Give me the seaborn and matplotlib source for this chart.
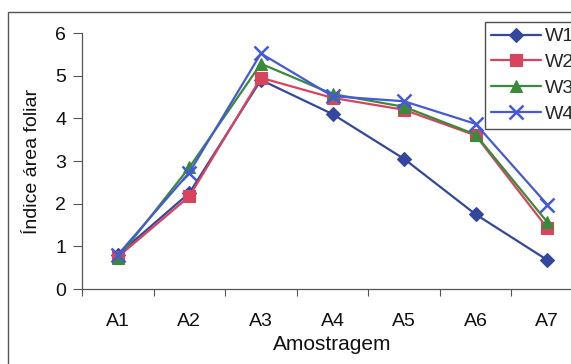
import matplotlib
matplotlib.use("Agg")
import matplotlib.pyplot as plt
import seaborn as sns
import pandas as pd
from matplotlib.patches import Rectangle
from matplotlib.ticker import FixedLocator, NullFormatter

categories = ["A1", "A2", "A3", "A4", "A5", "A6", "A7"]
w1 = [0.80, 2.25, 4.90, 4.10, 3.05, 1.75, 0.68]
w2 = [0.75, 2.17, 4.95, 4.48, 4.20, 3.60, 1.43]
w3 = [0.72, 2.85, 5.28, 4.57, 4.27, 3.62, 1.57]
w4 = [0.80, 2.73, 5.52, 4.52, 4.40, 3.87, 1.98]
series_names = ["W1", "W2", "W3", "W4"]
y_ticks = [0, 1, 2, 3, 4, 5, 6]

rows = []
for name, vals in zip(series_names, [w1, w2, w3, w4]):
    for c, v in zip(categories, vals):
        rows.append({"Amostragem": c, "valor": v, "serie": name})
df = pd.DataFrame(rows)

sns.set_theme(style="white")
plt.rcParams["font.family"] = ["Liberation Sans", "DejaVu Sans"]

W, H = 571, 364
fig = plt.figure(figsize=(W / 100, H / 100), dpi=100)
ax = fig.add_axes([82 / W, 1 - 289 / H, 501 / W, 256 / H])

palette = {"W1": "#34479e", "W2": "#d8445e", "W3": "#3a8a3a", "W4": "#4459d8"}
markers = {"W1": "D", "W2": "s", "W3": "^", "W4": "x"}
sizes = {"W1": 7.5, "W2": 8.5, "W3": 8.5, "W4": 9.5}

for name in series_names:
    sub = df[df["serie"] == name]
    sns.lineplot(data=sub, x="Amostragem", y="valor", ax=ax, color=palette[name],
                 marker=markers[name], markersize=sizes[name], linewidth=1.6,
                 markeredgecolor=palette[name], markeredgewidth=1.8 if name == "W4" else 0.8,
                 label=name, legend=False, sort=False)

FS = 14
ax.set_xlim(-0.5, 6.5)
ax.set_ylim(0, 6)
ax.set_yticks(y_ticks)
ax.set_yticklabels([str(t) for t in y_ticks])
ax.xaxis.set_major_locator(FixedLocator([i - 0.5 for i in range(8)]))
ax.xaxis.set_major_formatter(NullFormatter())
ax.xaxis.set_minor_locator(FixedLocator(list(range(7))))
ax.set_xticklabels(categories, minor=True)
ax.tick_params(axis="x", which="major", length=5, width=0.8, color="#555555", direction="out", bottom=True)
ax.tick_params(axis="x", which="minor", length=0, pad=17, labelsize=FS, labelcolor="#111111")
ax.tick_params(axis="y", which="major", length=6.5, width=0.8, color="#555555", direction="out", left=True, pad=5,
               labelsize=FS, labelcolor="#111111")

for s in ["top", "right"]:
    ax.spines[s].set_visible(False)
for s in ["left", "bottom"]:
    ax.spines[s].set_color("#555555")
    ax.spines[s].set_linewidth(0.9)

ax.set_xlabel("Amostragem", fontsize=15, color="#111111", labelpad=4)
ax.set_ylabel("Índice área foliar", fontsize=14, color="#111111", labelpad=10)

handles, labels = ax.get_legend_handles_labels()
leg = fig.legend(handles, labels, loc="upper left", bbox_to_anchor=(485 / W, 1 - 22 / H),
                 borderaxespad=0, frameon=True, fancybox=False, fontsize=FS,
                 handlelength=2.6, handletextpad=0.2, labelspacing=0.42, borderpad=0.3)
leg.get_frame().set_edgecolor("#222222")
leg.get_frame().set_linewidth(1.0)

fig.patches.append(Rectangle((8 / W, -0.05), 1.1, 1 - 12 / H + 0.05, transform=fig.transFigure,
                             fill=False, edgecolor="#555555", linewidth=1.0))

fig.savefig("out.png", dpi=100)
